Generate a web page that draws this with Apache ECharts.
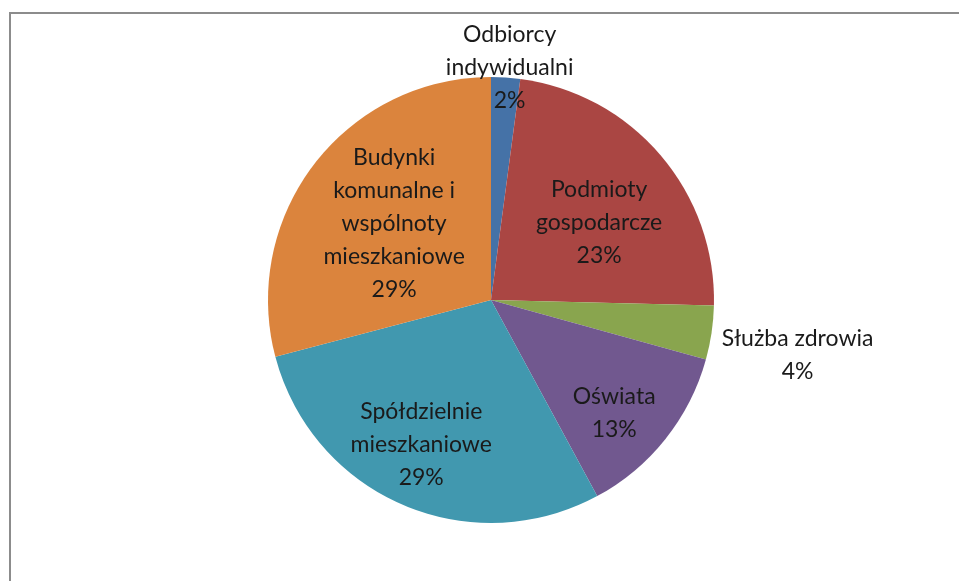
<!DOCTYPE html>
<html>
<head>
<meta charset="utf-8">
<script src="https://cdn.jsdelivr.net/npm/echarts@6/dist/echarts.min.js"></script>
<style>
  html, body { margin: 0; padding: 0; background: #fff; }
  #chart { width: 959px; height: 581px; }
</style>
</head>
<body>
<div id="chart"></div>
<script type="text/javascript">
  // Udział grup odbiorców (pie)
  var categories = [
    'Odbiorcy\nindywidualni',
    'Podmioty\ngospodarcze',
    'Służba zdrowia',
    'Oświata',
    'Spółdzielnie\nmieszkaniowe',
    'Budynki\nkomunalne i\nwspólnoty\nmieszkaniowe'
  ];
  var shares = [2.1, 23.3, 3.9, 12.8, 28.8, 29.1];
  var colors = ['#4572A7', '#AA4643', '#89A54E', '#71588F', '#4198AF', '#DB843D'];

  // where each label sits: part of the radius, and a small turn (degrees, clockwise)
  var labelRadius = [1.02, 0.58, 1.36, 0.73, 0.70, 0.54];
  var labelTurn = [0.8, 5, 1.7, 4, 2.4, 0.8];

  var cx = 491, cy = 300, R = 223;

  var myChart = echarts.init(document.getElementById('chart'));

  var pieData = categories.map(function (name, i) {
    return { name: name, value: shares[i], itemStyle: { color: colors[i] } };
  });

  var option = {
    animation: false,
    backgroundColor: '#fff',
    graphic: [
      {
        type: 'rect',
        silent: true,
        shape: { x: 10, y: 13, width: 1000, height: 1000 },
        style: { fill: 'none', stroke: '#8c8c8c', lineWidth: 2 }
      }
    ],
    series: [
      {
        type: 'pie',
        center: [cx, cy],
        radius: R,
        startAngle: 90,
        clockwise: true,
        avoidLabelOverlap: false,
        itemStyle: { borderWidth: 0 },
        label: {
          show: true,
          position: 'inside',
          color: '#1a1a1a',
          fontFamily: 'Lato',
          fontSize: 23,
          lineHeight: 33,
          align: 'center',
          formatter: function (p) {
            return p.name + '\n' + Math.round(p.percent) + '%';
          }
        },
        labelLine: { show: false },
        labelLayout: function (params) {
          var r = params.labelRect;
          var i = params.dataIndex;
          var mx = r.x + r.width / 2 - cx;
          var my = r.y + r.height / 2 - cy;
          var t = labelTurn[i] * Math.PI / 180;
          var s = labelRadius[i] / 0.5;
          var nx = (mx * Math.cos(t) - my * Math.sin(t)) * s;
          var ny = (mx * Math.sin(t) + my * Math.cos(t)) * s;
          return { dx: nx - mx, dy: ny - my };
        },
        emphasis: { disabled: true },
        data: pieData
      }
    ]
  };

  myChart.setOption(option);

  window.addEventListener('resize', myChart.resize);
</script>
</body>
</html>
